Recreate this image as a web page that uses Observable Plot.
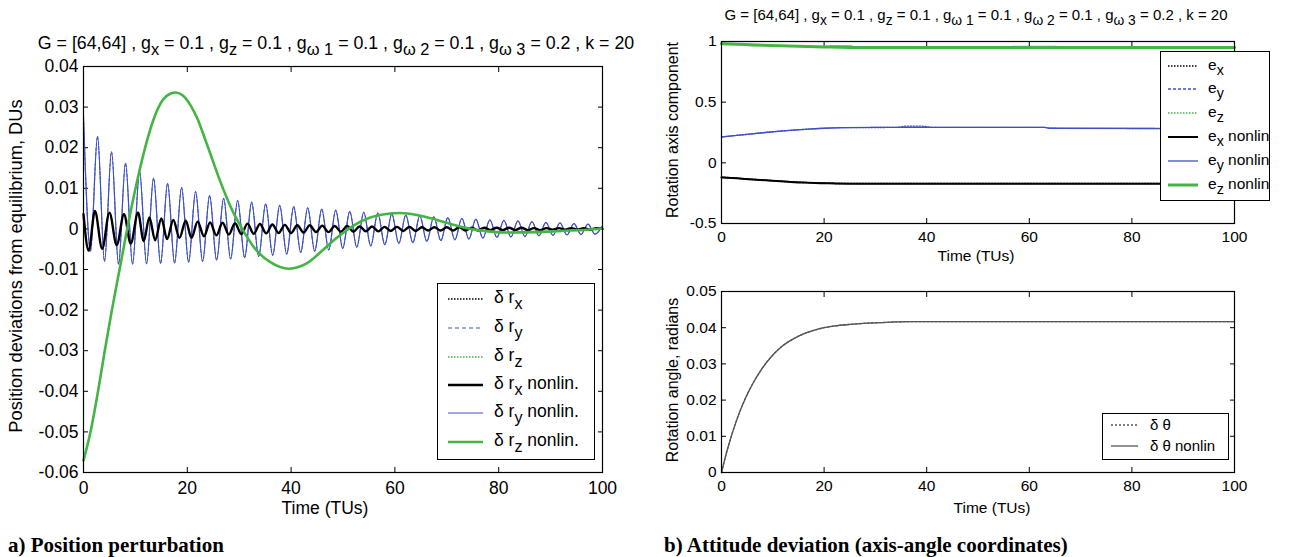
<!DOCTYPE html>
<html>
<head>
<meta charset="utf-8">
<script src="https://cdn.jsdelivr.net/npm/d3@7"></script>
<script src="https://cdn.jsdelivr.net/npm/@observablehq/plot@0.6"></script>
<style>
  body { margin: 0; background: #fff; }
  #root { position: relative; width: 1292px; height: 557px; overflow: hidden; background: #fff;
          font-family: "Liberation Sans", Arial, Helvetica, sans-serif; color: #000; }
  .abs { position: absolute; white-space: nowrap; }
  .c { transform: translate(-50%, -50%); }
  .sub { position: relative; top: 0.38em; font-size: 0.92em; }
  .cap { font-family: "Liberation Serif", "Times New Roman", serif; font-weight: bold; font-size: 21px; }
  .legend { position: absolute; border: 1.3px solid #000; background: #fff; box-sizing: border-box; }
  svg.plot { position: absolute; }
</style>
</head>
<body>
<div id="root"></div>
<script>
// ---------------- DATA ----------------
const timeTicks = [0, 20, 40, 60, 80, 100];
const posTicks = [-0.06, -0.05, -0.04, -0.03, -0.02, -0.01, 0, 0.01, 0.02, 0.03, 0.04];
const axisTicks = [-0.5, 0, 0.5, 1];
const angleTicks = [0, 0.01, 0.02, 0.03, 0.04, 0.05];

// a) position perturbation, [time (TUs), value (DUs)]
const drxNonlin = [
[0,0.0036],[1.0,-0.0054],[2.2,0.0044],[3.6,-0.0049],[5.0,0.0040],[6.4,-0.0040],[7.8,0.0036],[9.1,-0.0036],
[10.5,0.0040],[11.6,-0.0030],[12.7,0.0028],[13.8,-0.0028],[15.0,0.0026],[16.1,-0.0025],[17.3,0.0022],[18.5,-0.0022],
[19.7,0.0020],[20.8,-0.0022],[22.0,0.0018],[23.2,-0.0018],[24.4,0.0016],[25.6,-0.0016],[26.8,0.0015],[28.0,-0.0014],
[29.2,0.0014],[30.4,-0.0013],[31.6,0.0013],[32.8,-0.0012],[34.0,0.0012],[35.2,-0.0011],[36.4,0.0011],[37.6,-0.0010],
[38.8,0.0010],[40.0,-0.0010],[41.2,0.0009],[42.4,-0.0009],[43.6,0.0009],[44.8,-0.0008],[46.0,0.0008],[47.2,-0.0008],
[48.4,0.0007],[49.6,-0.0007],[50.8,0.0007],[52.0,-0.0007],[53.2,0.0006],[54.4,-0.0006],[55.6,0.0006],[56.8,-0.0006],
[58.0,0.0005],[59.2,-0.0005],[60.4,0.0005],[61.6,-0.0005],[62.8,0.0005],[64.0,-0.0005],[65.2,0.0004],[66.4,-0.0004],
[67.6,0.0004],[68.8,-0.0004],[70.0,0.0004],[71.2,-0.0004],[72.4,0.0004],[73.6,-0.0004],[74.8,0.0003],[76.0,-0.0004],
[77.2,0.0003],[78.4,-0.0003],[79.6,0.0003],[80.8,-0.0003],[82.0,0.0003],[83.2,-0.0003],[84.4,0.0003],[85.6,-0.0003],
[86.8,0.0002],[88.0,-0.0003],[89.2,0.0002],[90.4,-0.0002],[91.6,0.0002],[92.8,-0.0002],[94.0,0.0002],[95.2,-0.0002],
[96.4,0.0002],[97.6,-0.0002],[98.8,0.0002],[100,0.0]
];
const dryNonlin = [
[0,0.0275],[1.35,-0.0055],[2.7,0.0228],[4.05,-0.0080],[5.4,0.0190],[6.75,-0.0087],[8.1,0.0162],[9.45,-0.0087],
[10.8,0.0142],[12.15,-0.0086],[13.5,0.0125],[14.85,-0.0085],[16.2,0.0112],[17.55,-0.0084],[18.9,0.0102],[20.25,-0.0082],
[21.6,0.0092],[22.95,-0.0080],[24.3,0.0082],[25.65,-0.0077],[27.0,0.0075],[28.35,-0.0074],[29.7,0.0070],[31.05,-0.0071],
[32.4,0.0066],[33.75,-0.0068],[35.1,0.0062],[36.45,-0.0065],[37.8,0.0058],[39.15,-0.0062],[40.5,0.0055],[41.85,-0.0058],
[43.2,0.0052],[44.55,-0.0055],[45.9,0.0049],[47.25,-0.0052],[48.6,0.0046],[49.95,-0.0048],[51.3,0.0043],[52.65,-0.0045],
[54.0,0.0041],[55.35,-0.0042],[56.7,0.0039],[58.05,-0.0039],[59.4,0.0037],[60.75,-0.0036],[62.1,0.0034],[63.45,-0.0034],
[64.8,0.0032],[66.15,-0.0031],[67.5,0.0030],[68.85,-0.0029],[70.2,0.0028],[71.55,-0.0027],[72.9,0.0026],[74.25,-0.0025],
[75.6,0.0024],[76.95,-0.0023],[78.3,0.0022],[79.65,-0.0021],[81.0,0.0021],[82.35,-0.0020],[83.7,0.0020],[85.05,-0.0019],
[86.4,0.0018],[87.75,-0.0017],[89.1,0.0016],[90.45,-0.0016],[91.8,0.0015],[93.15,-0.0015],[94.5,0.0013],[95.85,-0.0014],
[97.2,0.0012],[98.55,-0.0013],[100,0.0008]
];
const drzNonlin = [
[0,-0.057],[1.4,-0.0497],[2.8,-0.040],[4.1,-0.030],[5.4,-0.0205],[6.8,-0.011],[8.2,-0.0015],[9.6,0.0075],
[11.0,0.0155],[12.4,0.0225],[13.8,0.028],[15.3,0.0318],[16.7,0.0333],[17.8,0.0336],[19.2,0.0328],[20.6,0.0305],
[22.0,0.027],[23.4,0.0222],[24.8,0.0172],[26.2,0.0122],[27.6,0.0077],[29.0,0.0037],[30.5,0.0002],[33.0,-0.0048],
[36.0,-0.0082],[39.6,-0.0098],[43.0,-0.0085],[46.3,-0.005],[48.5,-0.0025],[50.5,-0.0005],[52.5,0.0012],[55.0,0.0027],
[58.0,0.0036],[61.0,0.0039],[64.0,0.0035],[67.0,0.0026],[70.0,0.0015],[72.5,0.0006],[75.0,-0.0001],[78.0,-0.0006],
[82.0,-0.0009],[87.0,-0.0008],[92.0,-0.0005],[97.0,-0.0002],[100,0.0001]
];
// linear solutions coincide with the nonlinear ones at this scale
const drxLinear = drxNonlin;
const dryLinear = dryNonlin;
const drzLinear = drzNonlin;

// b) rotation axis components
const exLinear = [[0,-0.118],[3,-0.127],[6,-0.136],[10,-0.147],[13,-0.155],[16,-0.162],[20,-0.167],[25,-0.171],[100,-0.171]];
const eyLinear = [[0,0.213],[2,0.222],[5,0.235],[8,0.248],[11,0.26],[14,0.27],[17,0.278],[20,0.285],[24,0.29],[34,0.292],[36,0.302],[39,0.302],[41,0.293],[63,0.292],[64,0.285],[100,0.282]];
const ezLinear = [[0,0.985],[5,0.977],[10,0.969],[15,0.962],[20,0.957],[22,0.962],[25,0.962],[26,0.955],[30,0.953],[56,0.953],[57,0.958],[65,0.958],[66,0.953],[100,0.953]];
const exNonlin = [[0,-0.12],[3,-0.128],[6,-0.137],[10,-0.148],[13,-0.156],[16,-0.163],[20,-0.168],[25,-0.172],[100,-0.172]];
const eyNonlin = [[0,0.213],[2,0.222],[5,0.235],[8,0.248],[11,0.26],[14,0.27],[17,0.278],[20,0.285],[24,0.29],[30,0.292],[63,0.292],[64,0.285],[100,0.282]];
const ezNonlin = [[0,0.982],[3,0.978],[6,0.972],[10,0.966],[15,0.96],[20,0.955],[25,0.951],[30,0.95],[100,0.95]];

// rotation angle (radians)
const thetaNonlin = [[0,0],[1,0.0056],[2.2,0.0113],[3.4,0.0162],[4.6,0.0203],[6,0.0243],[7.7,0.0283],[10.1,0.0326],
[12,0.0351],[14.1,0.037],[16,0.0383],[18.1,0.0393],[20,0.04],[22.1,0.0405],[25,0.0409],[27.7,0.0412],[31,0.0414],
[34,0.0416],[37,0.0417],[100,0.0417]];
const thetaLinear = thetaNonlin;

// ---------------- STYLE ----------------
const BLUE = "#3d50c3", GREEN = "#44b544", BLACK = "#000", GRAY = "#555";
const fmt = d => (Math.abs(d) < 1e-12 ? "0" : String(+d.toFixed(3)));
const root = document.getElementById("root");

function panel({width, height, left, top, mL, mR, mT, mB, yDomain, yTicks, fontSize, xPad, marks}) {
  const svg = Plot.plot({
    width, height, marginLeft: mL, marginRight: mR, marginTop: mT, marginBottom: mB,
    style: {fontFamily: '"Liberation Sans", Arial, sans-serif', fontSize: fontSize + "px", color: "#000", background: "transparent", overflow: "visible"},
    x: {domain: [0, 100]},
    y: {domain: yDomain},
    marks: [
      Plot.axisX({anchor: "bottom", ticks: timeTicks, tickSize: -5, tickPadding: xPad, tickFormat: fmt, label: null}),
      Plot.axisX({anchor: "top", ticks: timeTicks, tickSize: -5, tickFormat: () => "", label: null}),
      Plot.axisY({anchor: "left", ticks: yTicks, tickSize: -5, tickPadding: 10, tickFormat: fmt, label: null}),
      Plot.axisY({anchor: "right", ticks: yTicks, tickSize: -5, tickFormat: () => "", label: null}),
      ...marks,
      Plot.frame({stroke: "#000", strokeWidth: 1.2})
    ]
  });
  svg.classList.add("plot");
  svg.style.left = left + "px";
  svg.style.top = top + "px";
  root.appendChild(svg);
}
const ln = (data, stroke, w, dash, curve = "linear") =>
  Plot.line(data, {x: d => d[0], y: d => d[1], stroke, strokeWidth: w, strokeDasharray: dash, curve});

// a) position
panel({width: 640, height: 557, left: 0, top: 0, mL: 83, mR: 38, mT: 66, mB: 85,
  yDomain: [-0.06, 0.04], yTicks: posTicks, fontSize: 17.5, xPad: 14,
  marks: [
    ln(dryNonlin, BLUE, 1.2, null, "monotone-x"),
    ln(dryLinear, BLUE, 1, "3,2", "monotone-x"),
    ln(drxNonlin, BLACK, 2.4, null, "monotone-x"),
    ln(drxLinear, BLACK, 1, "1.5,1.5", "monotone-x"),
    ln(drzNonlin, GREEN, 2.6, null, "monotone-x"),
    ln(drzLinear, GREEN, 1, "1.5,1.5", "monotone-x")
  ]});

// b) axis components
panel({width: 652, height: 270, left: 640, top: 0, mL: 81, mR: 58, mT: 41, mB: 47,
  yDomain: [-0.5, 1], yTicks: axisTicks, fontSize: 15.5, xPad: 12,
  marks: [
    ln(exNonlin, BLACK, 2, null, "monotone-x"),
    ln(exLinear, BLACK, 1.5, "1.5,1.5", "monotone-x"),
    ln(eyNonlin, BLUE, 1.3, null, "monotone-x"),
    ln(eyLinear, BLUE, 1.3, "1.5,1.5", "monotone-x"),
    ln(ezNonlin, GREEN, 3, null, "monotone-x"),
    ln(ezLinear, GREEN, 1.8, "1.5,1.5", "monotone-x")
  ]});

// b) angle
panel({width: 652, height: 287, left: 640, top: 270, mL: 81, mR: 58, mT: 21, mB: 85,
  yDomain: [0, 0.05], yTicks: angleTicks, fontSize: 15.5, xPad: 12,
  marks: [
    ln(thetaLinear, GRAY, 1.3, "2,2", "monotone-x"),
    ln(thetaNonlin, GRAY, 1.3, null, "monotone-x")
  ]});

// ---------------- TEXT OVERLAYS ----------------
function text(html, x, y, cls = "", style = "") {
  const d = document.createElement("div");
  d.className = "abs c " + cls;
  d.style.cssText += `left:${x}px;top:${y}px;` + style;
  d.innerHTML = html;
  root.appendChild(d);
  return d;
}
const titleHTML = 'G = [64,64] , g<span class="sub">x</span> = 0.1 , g<span class="sub">z</span> = 0.1 , g<span class="sub">ω 1</span> = 0.1 , g<span class="sub">ω 2</span> = 0.1 , g<span class="sub">ω 3</span> = 0.2 , k = 20';
text(titleHTML, 336, 44, "", "font-size:17.8px;line-height:1;");
text(titleHTML, 976, 15, "", "font-size:15px;line-height:1;");

text("Time (TUs)", 325, 509, "", "font-size:17.5px;line-height:1;");
text("Time (TUs)", 976, 256, "", "font-size:15.5px;line-height:1;");
text("Time (TUs)", 992, 508, "", "font-size:15.5px;line-height:1;");

text("Position deviations from equilibrium, DUs", 16, 266, "", "font-size:18.3px;line-height:1;transform:translate(-50%,-50%) rotate(-90deg);");
text("Rotation axis component", 673, 130, "", "font-size:16px;line-height:1;transform:translate(-50%,-50%) rotate(-90deg);");
text("Rotation angle, radians", 673, 380, "", "font-size:16px;line-height:1;transform:translate(-50%,-50%) rotate(-90deg);");

text("a) Position perturbation", 8, 545, "cap", "transform:translate(0,-50%);line-height:1;");
text("b) Attitude deviation (axis-angle coordinates)", 664, 545, "cap", "transform:translate(0,-50%);line-height:1;");

// ---------------- LEGENDS ----------------
function legend(box, rows, lineX1, lineX2, textX, fontSize) {
  const b = document.createElement("div");
  b.className = "legend";
  b.style.left = box[0] + "px"; b.style.top = box[1] + "px";
  b.style.width = (box[2] - box[0]) + "px"; b.style.height = (box[3] - box[1]) + "px";
  root.appendChild(b);
  const svgNS = "http://www.w3.org/2000/svg";
  const s = document.createElementNS(svgNS, "svg");
  s.setAttribute("width", 1292); s.setAttribute("height", 557);
  s.style.cssText = "position:absolute;left:0;top:0;overflow:visible;pointer-events:none";
  for (const r of rows) {
    const l = document.createElementNS(svgNS, "line");
    l.setAttribute("x1", lineX1); l.setAttribute("x2", lineX2);
    l.setAttribute("y1", r.y); l.setAttribute("y2", r.y);
    l.setAttribute("stroke", r.color); l.setAttribute("stroke-width", r.w);
    if (r.dash) l.setAttribute("stroke-dasharray", r.dash);
    s.appendChild(l);
    const t = document.createElement("div");
    t.className = "abs";
    t.style.cssText = `left:${textX}px;top:${r.y}px;transform:translate(0,-55%);font-size:${fontSize}px;line-height:1;`;
    t.innerHTML = r.label;
    root.appendChild(t);
  }
  root.appendChild(s);
}
legend([437, 283, 595, 460], [
  {y: 299, color: BLACK, w: 1.6, dash: "1.5,1.5", label: 'δ r<span class="sub">x</span>'},
  {y: 328, color: BLUE, w: 1.2, dash: "4,3", label: 'δ r<span class="sub">y</span>'},
  {y: 357, color: GREEN, w: 1.6, dash: "1.5,1.5", label: 'δ r<span class="sub">z</span>'},
  {y: 385, color: BLACK, w: 2.4, label: 'δ r<span class="sub">x</span> nonlin.'},
  {y: 413, color: BLUE, w: 1.2, label: 'δ r<span class="sub">y</span> nonlin.'},
  {y: 442, color: GREEN, w: 2.6, label: 'δ r<span class="sub">z</span> nonlin.'}
], 448, 483, 494, 17.5);

legend([1160, 51, 1270, 201], [
  {y: 66, color: BLACK, w: 1.5, dash: "1.5,1.5", label: 'e<span class="sub">x</span>'},
  {y: 89, color: BLUE, w: 1.3, dash: "3,2", label: 'e<span class="sub">y</span>'},
  {y: 113, color: GREEN, w: 1.6, dash: "1.5,1.5", label: 'e<span class="sub">z</span>'},
  {y: 137, color: BLACK, w: 2, label: 'e<span class="sub">x</span> nonlin'},
  {y: 161, color: BLUE, w: 1.3, label: 'e<span class="sub">y</span> nonlin'},
  {y: 185, color: GREEN, w: 3, label: 'e<span class="sub">z</span> nonlin'}
], 1168, 1198, 1208, 15.5);

legend([1102, 413, 1229, 460], [
  {y: 425, color: GRAY, w: 1.3, dash: "2,2", label: 'δ θ'},
  {y: 446, color: GRAY, w: 1.3, label: 'δ θ nonlin'}
], 1111, 1138, 1150, 15);
</script>
</body>
</html>
